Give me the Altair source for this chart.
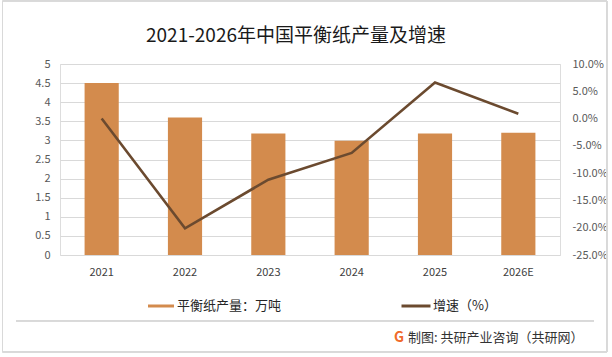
import altair as alt
import pandas as pd

years = ["2021", "2022", "2023", "2024", "2025", "2026E"]
output = [4.5, 3.6, 3.18, 2.99, 3.18, 3.2]
growth = [0.0, -0.201, -0.112, -0.063, 0.066, 0.009]

bar_name = "平衡纸产量：万吨"
line_name = "增速（%）"
title_text = "2021-2026年中国平衡纸产量及增速"
source_text = "制图: 共研产业咨询（共研网）"

df = pd.DataFrame({
    "year": years,
    "output": output,
    "growth": growth,
    "s_bar": [bar_name] * len(years),
    "s_line": [line_name] * len(years),
})

FONT = "Noto Sans CJK SC"
BAR_COLOR = "#D38B4D"
LINE_COLOR = "#6B4A2F"
GRID = "#D9D9D9"

x_enc = alt.X(
    "year:N",
    sort=years,
    scale=alt.Scale(paddingInner=0.59, paddingOuter=0.295),
    axis=alt.Axis(title=None, labelAngle=0, domain=False, ticks=False,
                  labelPadding=11, labelFontSize=11, labelColor="#404040",
                  labelFont=FONT),
)

base = alt.Chart(df)

bars = base.mark_bar().encode(
    x=x_enc,
    y=alt.Y("output:Q",
            scale=alt.Scale(domain=[0, 5], nice=False),
            axis=alt.Axis(title=None, values=[i * 0.5 for i in range(11)],
                          format="~g", grid=True, gridColor=GRID, domain=False,
                          ticks=False, labelPadding=10, labelFontSize=11,
                          labelColor="#595959", labelFont=FONT)),
    color=alt.Color("s_bar:N",
                    scale=alt.Scale(domain=[bar_name], range=[BAR_COLOR]),
                    legend=alt.Legend(title=None, orient="none", legendX=88, legendY=229,
                                      symbolType="M-1,-0.115H1V0.115H-1Z", symbolSize=676,
                                      symbolStrokeWidth=0, labelOffset=3,
                                      labelFontSize=13, labelColor="#262626",
                                      labelFont=FONT)),
)

line = base.mark_line(strokeWidth=2.6).encode(
    x=alt.X("year:N", sort=years),
    y=alt.Y("growth:Q",
            scale=alt.Scale(domain=[-0.25, 0.10], nice=False),
            axis=alt.Axis(title=None, orient="right",
                          values=[-0.25, -0.2, -0.15, -0.1, -0.05, 0, 0.05, 0.1],
                          labelExpr="(datum.value < -0.0001 ? '-' : '') + format(abs(datum.value), '.1%')",
                          grid=False, domain=False, ticks=False, labelPadding=12,
                          labelFontSize=11, labelColor="#595959", labelFont=FONT)),
    stroke=alt.Stroke("s_line:N",
                      scale=alt.Scale(domain=[line_name], range=[LINE_COLOR]),
                      legend=alt.Legend(title=None, orient="none", legendX=340, legendY=226,
                                        symbolType="stroke", symbolSize=841,
                                        symbolStrokeWidth=3, labelOffset=1,
                                        labelFontSize=13, labelColor="#262626",
                                        labelFont=FONT)),
)

# decorations: outer frame, title, footer separator, footer source text
frame = alt.Chart(df).mark_rect(fill=None, stroke=GRID, strokeWidth=1).encode(
    x=alt.value(-57.5), x2=alt.value(547), y=alt.value(-63), y2=alt.value(288)
)
title = alt.Chart(df).transform_filter("datum.year == '2021'").mark_text(
    text=title_text, font=FONT, fontSize=19, fontWeight=400,
    color="#1a1a1a", align="center", baseline="middle").encode(
    x=alt.value(236), y=alt.value(-28)
)
sep = alt.Chart(df).mark_rule(color=GRID, strokeWidth=1).encode(
    x=alt.value(-44), x2=alt.value(534), y=alt.value(257)
)
logo = alt.Chart(df).transform_filter("datum.year == '2021'").mark_text(
    text="G", font=FONT, fontSize=14, fontWeight="bold",
    color="#F06A2A", align="center", baseline="middle").encode(
    x=alt.value(339), y=alt.value(274)
)
source = alt.Chart(df).transform_filter("datum.year == '2021'").mark_text(
    text=source_text, font=FONT, fontSize=13, fontWeight=400,
    color="#333333", align="left", baseline="middle").encode(
    x=alt.value(348), y=alt.value(274)
)

chart = alt.layer(bars, line, frame, title, sep, logo, source).resolve_scale(
    y="independent", color="independent", stroke="independent"
).properties(
    width=500,
    height=191,
    autosize=alt.AutoSizeParams(type="none"),
    padding={"left": 60, "top": 64, "right": 52, "bottom": 102},
).configure_view(stroke=None).configure(background="white")

chart.save("out.html", embed_options={"renderer": "svg", "actions": False})
